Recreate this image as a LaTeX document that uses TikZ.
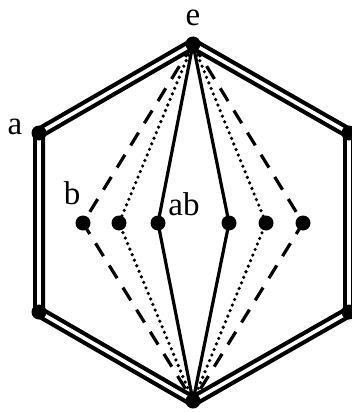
\documentclass[tikz,border=0pt]{standalone}
\usepackage{fontspec}
\setmainfont{Liberation Serif}
\begin{document}
\begin{tikzpicture}[x=1pt,y=-1pt,
  vdot/.style={circle,fill=black,inner sep=0pt,minimum size=15pt},
  hexedge/.style={draw=black,line width=4.2pt,double=white,double distance=3.6pt,line join=miter},
  solidln/.style={draw=black,line width=3.2pt},
  dashln/.style={draw=black,line width=3.2pt,dash pattern=on 15pt off 11pt},
  dotln/.style={draw=black,line width=3.6pt,line cap=round,dash pattern=on 0pt off 6pt},
  lbl/.style={font=\fontsize{33}{35}\selectfont,inner sep=0pt}]
\useasboundingbox (0,0) rectangle (351,412);
\coordinate (e) at (193,44);
\coordinate (a) at (39,133);
\coordinate (ll) at (39,312);
\coordinate (bt) at (193,401);
\coordinate (lr) at (349,312);
\coordinate (ur) at (349,133);
\coordinate (b) at (83,223);
\coordinate (c) at (119,223);
\coordinate (ab) at (158,223);
\coordinate (d) at (229,223);
\coordinate (f) at (266,223);
\coordinate (g) at (303,223);
% inner connectors
\draw[dashln] (e) -- (b) -- (bt);
\draw[dashln] (e) -- (g) -- (bt);
\draw[dotln] (e) -- (c) -- (bt);
\draw[dotln] (e) -- (f) -- (bt);
\draw[solidln] (e) -- (ab) -- (bt);
\draw[solidln] (e) -- (d) -- (bt);
% hexagon
\draw[hexedge] (e) -- (ur) -- (lr) -- (bt) -- (ll) -- (a) -- cycle;
% dots
\foreach \p in {e,a,ll,bt,lr,ur,b,c,ab,d,f,g} \node[vdot] (n\p) at (\p) {};
% labels
\node[lbl] (le) at (193,18) {e};
\node[lbl] (la) at (15,127) {a};
\node[lbl] (lb) at (72,193) {b};
\node[lbl] (lab) at (184,204) {ab};
\end{tikzpicture}
\end{document}
